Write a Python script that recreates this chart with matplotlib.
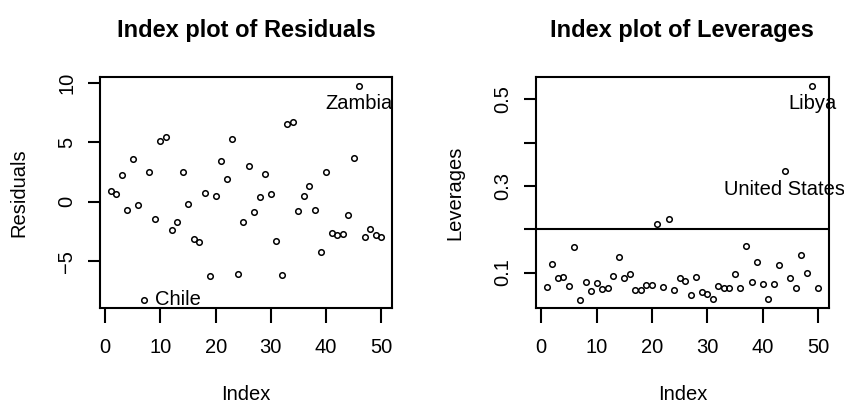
import matplotlib
matplotlib.use("Agg")
import matplotlib.pyplot as plt
import numpy as np

plt.rcParams['font.family'] = ['Liberation Sans', 'DejaVu Sans']

countries = ["Australia","Austria","Belgium","Bolivia","Brazil","Canada","Chile","China","Colombia","Costa Rica",
             "Denmark","Ecuador","Finland","France","Germany","Greece","Guatamala","Honduras","Iceland","India",
             "Ireland","Italy","Japan","Korea","Luxembourg","Malta","Norway","Netherlands","New Zealand","Nicaragua",
             "Panama","Paraguay","Peru","Philippines","Portugal","South Africa","South Rhodesia","Spain","Sweden","Switzerland",
             "Turkey","Tunisia","United Kingdom","United States","Venezuela","Zambia","Jamaica","Uruguay","Libya","Malaysia"]

residuals = [0.8636, 0.6164, 2.2190, -0.6983, 3.5528, -0.3169, -8.2422, 2.5360, -1.4517, 5.1251,
             5.4002, -2.4056, -1.6811, 2.4755, -0.1807, -3.1162, -3.3553, 0.7100, -6.2106, 0.5087,
             3.3911, 1.9268, 5.2815, -6.1070, -1.6708, 2.9749, -0.8718, 0.4255, 2.2856, 0.6464,
             -3.2942, -6.1258, 6.5394, 6.6750, -0.7684, 0.4831, 1.2914, -0.6712, -4.2603, 2.4868,
             -2.6657, -2.8179, -2.6857, -1.1116, 3.6358, 9.7509, -3.0007, -2.2644, -2.8295, -2.9709]

leverages = [0.0677, 0.1204, 0.0875, 0.0895, 0.0696, 0.1584, 0.0373, 0.0780, 0.0573, 0.0755,
             0.0627, 0.0637, 0.0920, 0.1362, 0.0874, 0.0966, 0.0605, 0.0601, 0.0705, 0.0715,
             0.2122, 0.0665, 0.2233, 0.0608, 0.0863, 0.0794, 0.0479, 0.0906, 0.0542, 0.0504,
             0.0390, 0.0694, 0.0650, 0.0643, 0.0971, 0.0651, 0.1608, 0.0773, 0.1240, 0.0736,
             0.0396, 0.0746, 0.1165, 0.3337, 0.0863, 0.0643, 0.1408, 0.0979, 0.5315, 0.0652]

lev_threshold = 0.2
res_xticks = [0, 10, 20, 30, 40, 50]
res_yticks = [-5, 0, 5, 10]
lev_yticks = [0.1, 0.2, 0.3, 0.4, 0.5]
lev_yticklabels = ["0.1", "", "0.3", "", "0.5"]

idx = np.arange(1, len(residuals) + 1)

fig = plt.figure(figsize=(8.44, 4.04), dpi=100)
ax1 = fig.add_axes([0.1185, 0.237, 0.346, 0.572])
ax2 = fig.add_axes([0.635, 0.237, 0.347, 0.572])

FS = 14.5
TFS = 17

def rlim(v):
    lo, hi = min(v), max(v)
    p = (hi - lo) * 0.04
    return lo - p, hi + p

def style(ax):
    for s in ax.spines.values():
        s.set_linewidth(1.5)
    ax.tick_params(direction='out', width=1.5, labelsize=FS)
    ax.tick_params(axis='x', length=10.5, pad=11)
    ax.tick_params(axis='y', length=9, pad=8, labelrotation=90)
    for lab in ax.get_yticklabels():
        lab.set_va('center')

ms = 4
ax1.plot(idx, residuals, 'o', mfc='none', mec='black', ms=ms, mew=1.1)
ax1.set_xlim(rlim(idx))
ax1.set_ylim(rlim(residuals))
ax1.set_xticks(res_xticks)
ax1.set_yticks(res_yticks)
ax1.set_title("Index plot of Residuals", fontsize=TFS, fontweight='bold', pad=29)
ax1.set_xlabel("Index", fontsize=FS, labelpad=20)
ax1.set_ylabel("Residuals", fontsize=FS, labelpad=21)
style(ax1)

i = countries.index("Zambia")
ax1.annotate("Zambia", (idx[i], residuals[i]), xytext=(0, -6), textcoords='offset points',
             ha='center', va='top', fontsize=FS, clip_on=False)
i = countries.index("Chile")
ax1.annotate("Chile", (idx[i], residuals[i]), xytext=(8, 0), textcoords='offset points',
             ha='left', va='center', fontsize=FS, clip_on=False)

ax2.plot(idx, leverages, 'o', mfc='none', mec='black', ms=ms, mew=1.1)
ax2.axhline(lev_threshold, color='black', lw=1.5)
ax2.set_xlim(rlim(idx))
ax2.set_ylim(rlim(leverages))
ax2.set_xticks(res_xticks)
ax2.set_yticks(lev_yticks)
ax2.set_yticklabels(lev_yticklabels)
ax2.set_title("Index plot of Leverages", fontsize=TFS, fontweight='bold', pad=29)
ax2.set_xlabel("Index", fontsize=FS, labelpad=20)
ax2.set_ylabel("Leverages", fontsize=FS, labelpad=21)
style(ax2)
for name in ["Libya", "United States"]:
    i = countries.index(name)
    ax2.annotate(name, (idx[i], leverages[i]), xytext=(0, -6), textcoords='offset points',
                 ha='center', va='top', fontsize=FS, clip_on=False)

fig.savefig("out.png", dpi=100, facecolor='white')
